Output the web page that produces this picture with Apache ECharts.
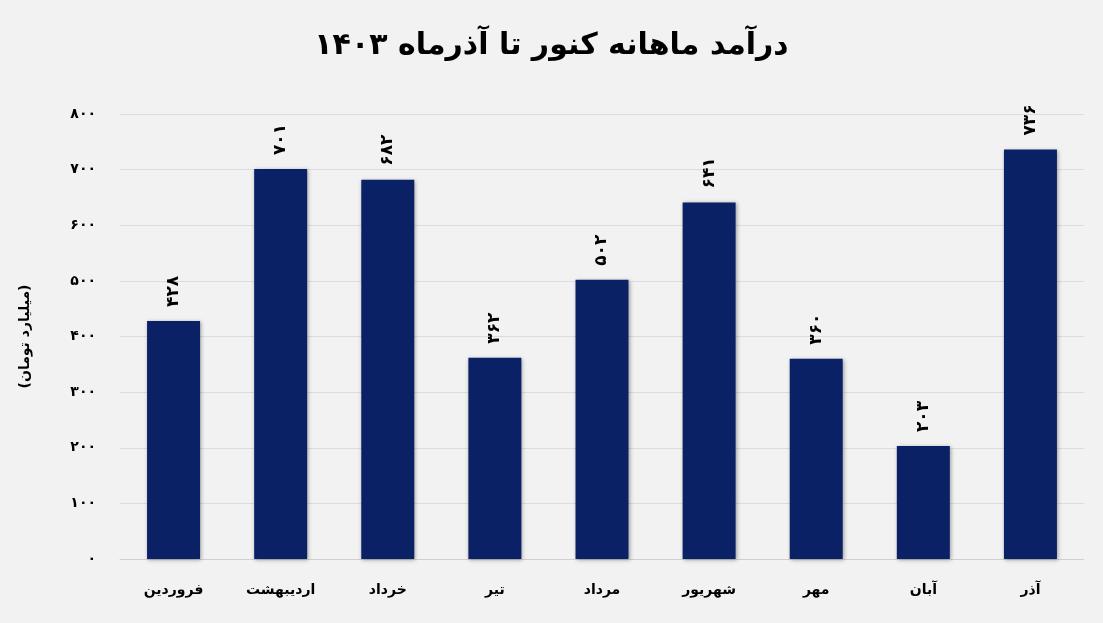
<!DOCTYPE html>
<html>
<head>
<meta charset="utf-8">
<script src="https://cdn.jsdelivr.net/npm/echarts@6/dist/echarts.min.js"></script>
<style>
  html, body { margin: 0; padding: 0; background: #f2f2f2; }
  #chart { width: 1103px; height: 623px; }
</style>
</head>
<body>
<div id="chart"></div>
<script>
var months = ['فروردین', 'اردیبهشت', 'خرداد', 'تیر', 'مرداد', 'شهریور', 'مهر', 'آبان', 'آذر'];
var revenue = [428, 701, 682, 362, 502, 641, 360, 203, 736];
var titleText = 'درآمد ماهانه کنور تا آذرماه ۱۴۰۳';
var yName = '(میلیارد تومان)';

// اعداد فارسی
function fa(n) {
    return String(n).replace(/[0-9]/g, function (d) {
        return '۰۱۲۳۴۵۶۷۸۹'.charAt(+d);
    });
}

var font = 'DejaVu Sans';
var myChart = echarts.init(document.getElementById('chart'));

var option = {
    backgroundColor: '#f2f2f2',
    title: {
        text: titleText,
        left: 'center',
        top: 26,
        textStyle: { fontFamily: font, fontSize: 30, fontWeight: 'bold', color: '#000' }
    },
    grid: { left: 120, right: 19, top: 114, bottom: 64 },
    xAxis: {
        type: 'category',
        data: months,
        axisLine: { lineStyle: { color: '#d0d0d0', width: 1 } },
        axisTick: { show: false },
        axisLabel: {
            margin: 24,
            fontFamily: font, fontSize: 14, fontWeight: 'bold', color: '#000'
        }
    },
    yAxis: {
        type: 'value',
        min: 0,
        max: 800,
        interval: 100,
        name: yName,
        nameLocation: 'middle',
        nameGap: 88,
        nameTextStyle: { fontFamily: font, fontSize: 14, fontWeight: 'bold', color: '#000' },
        axisLine: { show: false },
        axisTick: { show: false },
        splitLine: { lineStyle: { color: '#dcdcdc', width: 1 } },
        axisLabel: {
            margin: 24,
            fontFamily: font, fontSize: 14, fontWeight: 'bold', color: '#000',
            formatter: function (v) { return fa(v); }
        }
    },
    series: [{
        type: 'bar',
        data: revenue,
        barWidth: 53,
        itemStyle: {
            color: '#0b2166',
            shadowColor: 'rgba(0,0,0,0.35)',
            shadowBlur: 4,
            shadowOffsetX: 1,
            shadowOffsetY: 1
        },
        label: {
            show: true,
            position: 'top',
            distance: 14,
            rotate: 90,
            align: 'left',
            verticalAlign: 'middle',
            fontFamily: font, fontSize: 17, fontWeight: 'bold', color: '#000',
            formatter: function (p) { return fa(p.value); }
        }
    }]
};

myChart.setOption(option);
</script>
</body>
</html>
